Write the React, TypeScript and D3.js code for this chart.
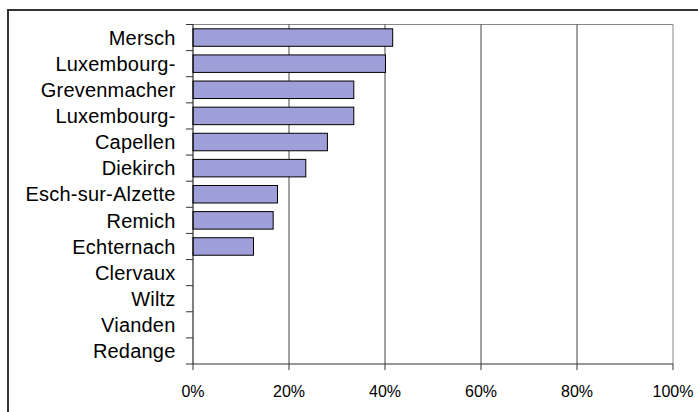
import React from "react";
import * as d3 from "d3";

const categories = [
  "Mersch",
  "Luxembourg-",
  "Grevenmacher",
  "Luxembourg-",
  "Capellen",
  "Diekirch",
  "Esch-sur-Alzette",
  "Remich",
  "Echternach",
  "Clervaux",
  "Wiltz",
  "Vianden",
  "Redange",
];
const values = [41.6, 40.1, 33.5, 33.5, 28.0, 23.5, 17.6, 16.7, 12.6, 0, 0, 0, 0];
const xTicks = [0, 20, 40, 60, 80, 100];

const W = 698;
const H = 412;
const plot = { left: 193, right: 673, top: 24.5, bottom: 364 };

export default function App() {
  const ids = categories.map((_, i) => String(i));
  const x = d3.scaleLinear().domain([0, 100]).range([plot.left, plot.right]);
  const y = d3
    .scaleBand<string>()
    .domain(ids)
    .range([plot.top, plot.bottom])
    .paddingInner(0.33)
    .paddingOuter(0.165);
  const boundaries = d3.range(categories.length + 1).map((i) => plot.top + i * ((plot.bottom - plot.top) / categories.length));

  return (
    <svg
      width={W}
      height={H}
      style={{ position: "absolute", left: 0, top: 0, background: "#fff" }}
      fontFamily="'Liberation Sans', Arial, sans-serif"
    >
      <rect x={8} y={10} width={W} height={H} fill="#fff" stroke="#333" strokeWidth={2} />
      {/* plot frame top/right */}
      <line x1={plot.left} x2={plot.right} y1={plot.top} y2={plot.top} stroke="#888" strokeWidth={1} />
      <line x1={plot.right} x2={plot.right} y1={plot.top} y2={plot.bottom} stroke="#888" strokeWidth={1} />
      {/* gridlines */}
      {xTicks.slice(1, -1).map((t) => (
        <line key={t} x1={x(t)} x2={x(t)} y1={plot.top} y2={plot.bottom} stroke="#444" strokeWidth={1} />
      ))}
      {/* bars */}
      {values.map((v, i) =>
        v > 0 ? (
          <rect
            key={i}
            x={x(0)}
            y={y(String(i))}
            width={x(v) - x(0)}
            height={y.bandwidth()}
            fill="#9f9fd9"
            stroke="#000"
            strokeWidth={1}
          />
        ) : null
      )}
      {/* axes */}
      <line x1={plot.left} x2={plot.left} y1={plot.top} y2={plot.bottom} stroke="#000" strokeWidth={1} />
      <line x1={plot.left} x2={plot.right} y1={plot.bottom} y2={plot.bottom} stroke="#333" strokeWidth={1.2} />
      {boundaries.map((b, i) => (
        <line key={i} x1={plot.left - 7} x2={plot.left} y1={b} y2={b} stroke="#333" strokeWidth={1} />
      ))}
      {xTicks.map((t) => (
        <g key={t}>
          <line x1={x(t)} x2={x(t)} y1={plot.bottom} y2={plot.bottom + 6} stroke="#333" strokeWidth={1} />
          <text x={x(t)} y={396.5} textAnchor="middle" fontSize={16} fill="#000">
            {t}%
          </text>
        </g>
      ))}
      {categories.map((c, i) => (
        <text
          key={i}
          x={175.5}
          y={(y(String(i)) as number) + y.bandwidth() / 2}
          dy="0.36em"
          textAnchor="end"
          fontSize={20}
          letterSpacing={0.2}
          fill="#000"
        >
          {c}
        </text>
      ))}
    </svg>
  );
}
